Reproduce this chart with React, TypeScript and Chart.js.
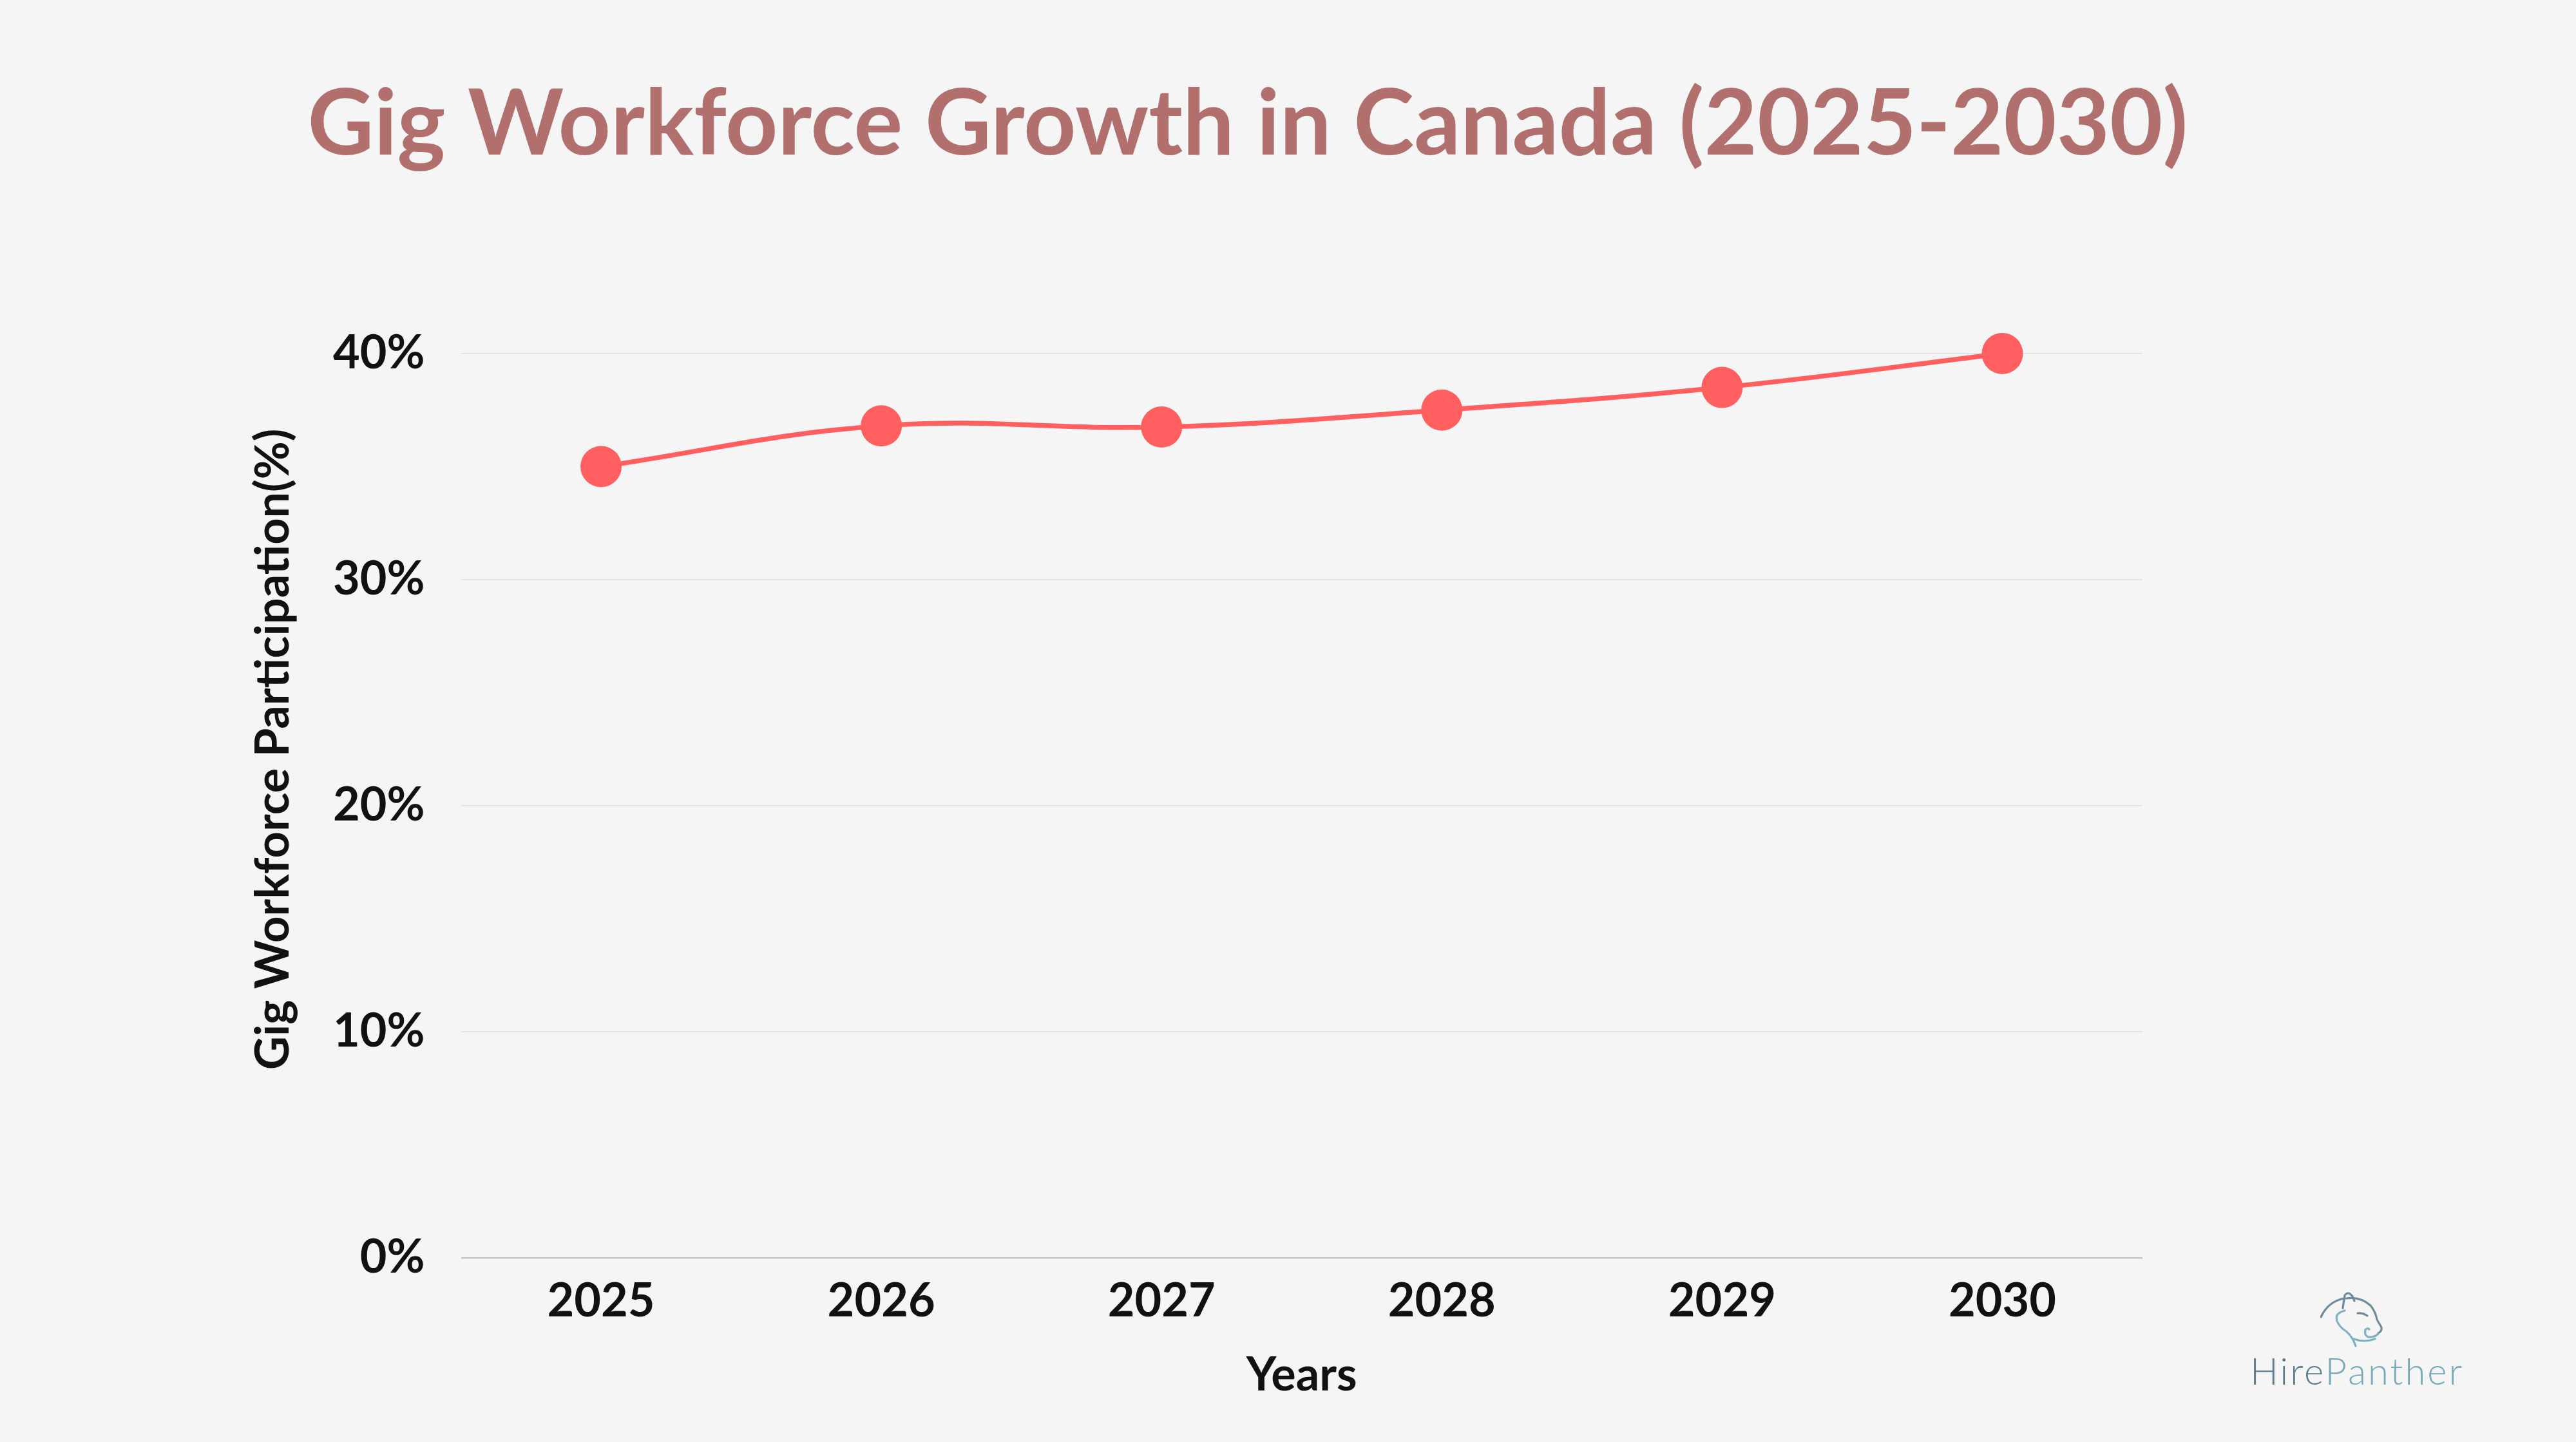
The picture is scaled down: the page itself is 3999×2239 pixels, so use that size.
import React, { useEffect, useRef } from 'react';
import { Chart, registerables } from 'chart.js';

Chart.register(...registerables);

// ---- data ----
const years = ['2025', '2026', '2027', '2028', '2029', '2030'];
const participation = [35, 36.8, 36.75, 37.5, 38.5, 40];
const yTickValues = [0, 10, 20, 30, 40];
const yAxisMax = 45;
const chartTitle = 'Gig Workforce Growth in Canada (2025-2030)';
const xAxisTitle = 'Years';
const yAxisTitle = 'Gig Workforce Participation(%)';
const brandHire = 'Hire';
const brandPanther = 'Panther';

const W = 3999;
const H = 2239;
const FONT = 'Lato, "Noto Sans", sans-serif';

const titleShift = {
  id: 'titleShift',
  afterLayout(chart: any) {
    const tb = chart.titleBlock;
    if (tb) {
      tb.left = 0;
      tb.right = 3874;
      tb.width = 3874;
    }
  },
};

export default function App() {
  const canvasRef = useRef<HTMLCanvasElement | null>(null);

  useEffect(() => {
    const canvas = canvasRef.current;
    if (!canvas) return;
    const tickFont = { family: FONT, size: 72, weight: 'bold' as const };
    const chart = new Chart(canvas, {
      type: 'line',
      data: {
        labels: years,
        datasets: [
          {
            data: participation,
            borderColor: '#FF5F5F',
            backgroundColor: '#FF5F5F',
            borderWidth: 7.5,
            pointRadius: 32,
            pointBorderWidth: 0,
            pointBackgroundColor: '#FF5F5F',
            tension: 0.4,
            fill: false,
          },
        ],
      },
      options: {
        responsive: false,
        maintainAspectRatio: false,
        animation: false,
        layout: { padding: { left: 389, right: W - 3326, top: 0, bottom: 60 } },
        plugins: {
          legend: { display: false },
          tooltip: { enabled: false },
          title: {
            display: true,
            text: chartTitle,
            color: '#B1706E',
            font: { family: FONT, size: 142, weight: 'bold' },
            padding: { top: 109, bottom: 94 },
          },
        },
        scales: {
          x: {
            offset: true,
            grid: { display: false, drawTicks: false },
            border: { display: false },
            ticks: { font: tickFont, color: '#111111', padding: 24 },
            title: {
              display: true,
              text: xAxisTitle,
              font: tickFont,
              color: '#111111',
              padding: { top: 5, bottom: 0 },
            },
          },
          y: {
            min: 0,
            max: yAxisMax,
            border: { display: false },
            grid: {
              drawTicks: false,
              color: (ctx: any) => {
                const v = ctx.tick ? ctx.tick.value : null;
                if (v === 0) return '#C6C6C6';
                return yTickValues.includes(v) ? '#E0E0E0' : 'rgba(0,0,0,0)';
              },
              lineWidth: (ctx: any) => (ctx.tick && ctx.tick.value === 0 ? 2.5 : 1.5),
            },
            ticks: {
              stepSize: 10,
              padding: 56,
              font: tickFont,
              color: '#111111',
              callback: (v: any) => (yTickValues.includes(Number(v)) ? v + '%' : ''),
            },
            title: {
              display: true,
              text: yAxisTitle,
              font: { family: FONT, size: 72, weight: 'bold', lineHeight: 1 },
              color: '#111111',
              padding: { top: 0, bottom: 0 },
            },
          },
        },
      },
      plugins: [titleShift],
    });
    return () => chart.destroy();
  }, []);

  return (
    <div
      style={{
        position: 'fixed',
        left: 0,
        top: 0,
        width: W,
        height: H,
        background: '#F5F5F5',
        overflow: 'hidden',
      }}
    >
      <canvas
        ref={canvasRef}
        width={W}
        height={H}
        style={{ position: 'absolute', left: 0, top: 0, width: W, height: H }}
      />
      <svg
        width={100}
        height={90}
        viewBox="0 0 100 90"
        style={{ position: 'absolute', left: 3602, top: 2005 }}
        fill="none"
        strokeLinecap="round"
        strokeLinejoin="round"
      >
        <g stroke="#6F8B9B" strokeWidth={3.2}>
          <path d="M 1 40 Q 12 16 37 11" />
          <path d="M 35 26 L 38 6 Q 44 -1 50 8 L 53 15" />
          <path d="M 40 11 Q 62 8 78 22 Q 86 32 88 44 L 95 56 Q 96 62 90 65" />
          <path d="M 58 34 Q 66 33 73 38" />
        </g>
        <g stroke="#7FB1C3" strokeWidth={3.2}>
          <path d="M 38 30 Q 22 34 26 46 Q 30 56 40 62 Q 50 70 55 85" />
          <path d="M 90 66 Q 84 72 74 71 Q 68 68 70 60 Q 73 56 76 59" />
          <path d="M 52 74 Q 68 80 85 74" />
        </g>
      </svg>
      <div
        style={{
          position: 'absolute',
          left: 3493,
          top: 2099,
          fontFamily: FONT,
          fontWeight: 300,
          fontSize: 58,
          lineHeight: 1,
          letterSpacing: 3,
          whiteSpace: 'nowrap',
        }}
      >
        <span style={{ color: '#5F7F91' }}>{brandHire}</span>
        <span style={{ color: '#78A9BB' }}>{brandPanther}</span>
      </div>
    </div>
  );
}
